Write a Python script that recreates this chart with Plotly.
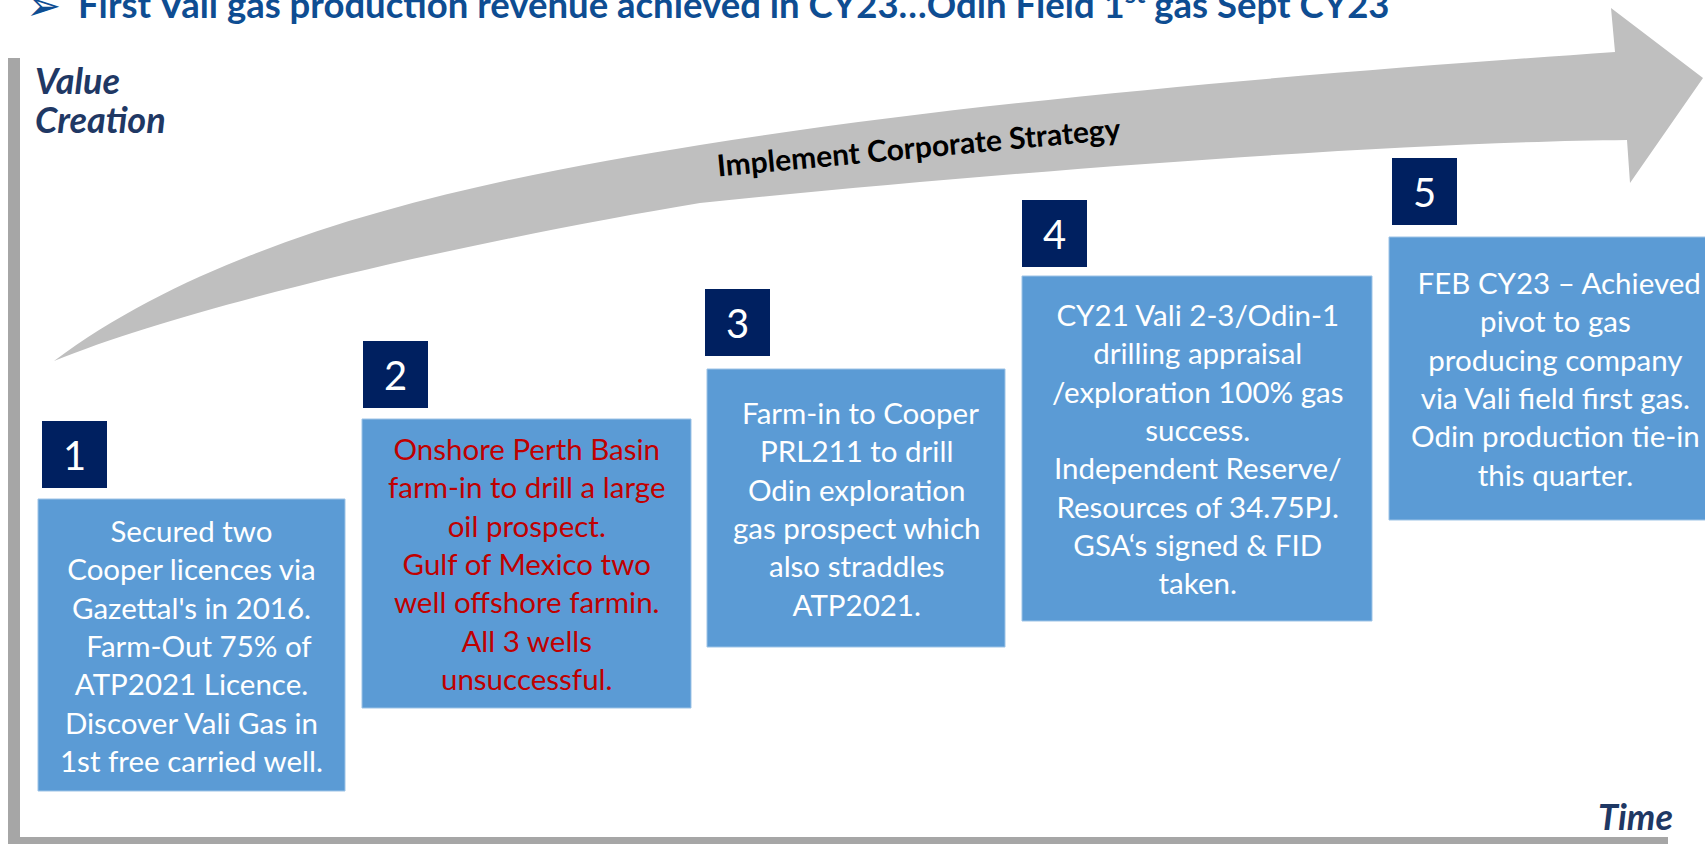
import plotly.graph_objects as go

# ---- content ----
title_text = "First Vali gas production revenue achieved in CY23…Odin Field 1<sup>st</sup> gas Sept CY23"
arrow_label = "Implement Corporate Strategy"
y_axis_label_lines = ["Value", "Creation"]
x_axis_label = "Time"

step_numbers = ["1", "2", "3", "4", "5"]
step_texts = [
    "Secured two<br>Cooper licences via<br>Gazettal's in 2016.<br>\u00a0\u00a0Farm-Out 75% of<br>ATP2021 Licence.<br>Discover Vali Gas in<br>1st free carried well.",
    "Onshore Perth Basin<br>farm-in to drill a large<br>oil prospect.<br>Gulf of Mexico two<br>well offshore farmin.<br>All 3 wells<br>unsuccessful.",
    "\u00a0Farm-in to Cooper<br>PRL211 to drill<br>Odin exploration<br>gas prospect which<br>also straddles<br>ATP2021.",
    "CY21 Vali 2-3/Odin-1<br>drilling appraisal<br>/exploration 100% gas<br>success.<br>Independent Reserve/<br>Resources of 34.75PJ.<br>GSA‘s signed &amp; FID<br>taken.",
    "\u00a0FEB CY23 – Achieved<br>pivot to gas<br>producing company<br>via Vali field first gas.<br>Odin production tie-in<br>this quarter.",
]
step_text_colors = ["#FFFFFF", "#C00000", "#FFFFFF", "#FFFFFF", "#FFFFFF"]

# ---- layout geometry (pixels of the 1705x844 canvas) ----
W, H = 1705, 844
box_x0 = [38, 362, 707, 1022, 1389]
box_x1 = [345, 691, 1005, 1372, 1725]
box_y0 = [499, 419, 369, 276, 237]
box_y1 = [791, 708, 647, 621, 520]
text_cx = [191.5, 526.5, 856, 1197, 1555]
sq_x0 = [42, 363, 705, 1022, 1392]
sq_y0 = [421, 341, 289, 200, 158]
SQ_W, SQ_H = 65, 67

BOX_FILL = "#5B9BD5"
BOX_EDGE = "#9DC3E6"
NAVY = "#002060"
GREY_ARROW = "#BFBFBF"
GREY_AXIS = "#A6A6A6"
TITLE_BLUE = "#0E4D92"
LABEL_NAVY = "#1F3864"
FONT = "Lato"

fig = go.Figure(go.Scatter(x=[0], y=[0], mode="markers", marker=dict(opacity=0),
                           hoverinfo="skip", showlegend=False))

shapes = []
# axes bars
shapes.append(dict(type="rect", xref="x", yref="y", x0=8, x1=20, y0=58, y1=850,
                   fillcolor=GREY_AXIS, line=dict(width=0), layer="below"))
shapes.append(dict(type="rect", xref="x", yref="y", x0=8, x1=1668, y0=837, y1=850,
                   fillcolor=GREY_AXIS, line=dict(width=0), layer="below"))
# curved arrow
arrow_path = ("M 54 361 C 230 229 500 177 700 145 C 1000 97 1365 69.5 1615 52 "
              "L 1611 8 L 1703 78 L 1630 183 L 1627 140 "
              "C 1400 142 1000 172 700 203 C 500 236 204 300 54 361 Z")
shapes.append(dict(type="path", xref="x", yref="y", path=arrow_path,
                   fillcolor=GREY_ARROW, line=dict(width=0), layer="below"))

annotations = []
for i in range(len(step_numbers)):
    shapes.append(dict(type="rect", xref="x", yref="y",
                       x0=box_x0[i], x1=box_x1[i], y0=box_y0[i], y1=box_y1[i],
                       fillcolor=BOX_FILL, line=dict(color=BOX_EDGE, width=1)))
    shapes.append(dict(type="rect", xref="x", yref="y",
                       x0=sq_x0[i], x1=sq_x0[i] + SQ_W, y0=sq_y0[i], y1=sq_y0[i] + SQ_H,
                       fillcolor=NAVY, line=dict(width=0)))
    annotations.append(dict(x=sq_x0[i] + SQ_W / 2, y=sq_y0[i] + SQ_H / 2, xref="x", yref="y",
                            text=step_numbers[i], showarrow=False, xanchor="center", yanchor="middle",
                            font=dict(family=FONT, size=40, color="#FFFFFF")))
    annotations.append(dict(x=text_cx[i], y=(box_y0[i] + box_y1[i]) / 2, xref="x", yref="y",
                            text=step_texts[i], showarrow=False, xanchor="center", yanchor="middle",
                            align="center",
                            font=dict(family=FONT, size=29.5, color=step_text_colors[i])))

# title
annotations.append(dict(x=24, y=5, xref="x", yref="y", text="➢", showarrow=False,
                        xanchor="left", yanchor="middle",
                        font=dict(family="DejaVu Sans", size=42, color=TITLE_BLUE)))
annotations.append(dict(x=76, y=2, xref="x", yref="y", text="<b>" + title_text + "</b>",
                        showarrow=False, xanchor="left", yanchor="middle",
                        font=dict(family=FONT, size=36.5, color=TITLE_BLUE)))
# axis labels
for k, (lab, yc) in enumerate(zip(y_axis_label_lines, [80, 119])):
    annotations.append(dict(x=33, y=yc, xref="x", yref="y", text="<b><i>" + lab + "</i></b>",
                            showarrow=False, xanchor="left", yanchor="middle", align="left",
                            font=dict(family=FONT, size=36, color=LABEL_NAVY)))
annotations.append(dict(x=1675, y=816, xref="x", yref="y", text="<b><i>" + x_axis_label + "</i></b>",
                        showarrow=False, xanchor="right", yanchor="middle",
                        font=dict(family=FONT, size=36, color=LABEL_NAVY)))
# arrow label
annotations.append(dict(x=918, y=146, xref="x", yref="y", text="<b>" + arrow_label + "</b>",
                        showarrow=False, xanchor="center", yanchor="middle", textangle=-5.3,
                        font=dict(family=FONT, size=30, color="#000000")))

fig.update_layout(
    width=W, height=H,
    margin=dict(l=0, r=0, t=0, b=0),
    paper_bgcolor="white", plot_bgcolor="white",
    xaxis=dict(range=[0, W], visible=False, fixedrange=True),
    yaxis=dict(range=[H, 0], visible=False, fixedrange=True),
    shapes=shapes, annotations=annotations,
    showlegend=False,
)

fig.write_html("out.html", config={"displayModeBar": False},
               post_script="document.body.style.margin='0';document.body.style.overflow='hidden';")
